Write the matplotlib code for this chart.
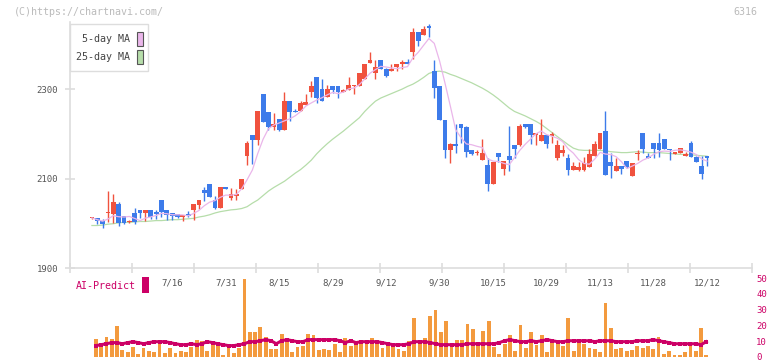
import numpy as np
import pandas as pd
import matplotlib
matplotlib.use("Agg")
import matplotlib.pyplot as plt
import matplotlib.patches as mpatches
import matplotlib.transforms as mtrans

# ---------------- data ----------------
opens = [2012, 2012, 2004, 2022, 2020, 2042, 2017, 2002, 2022, 2029,
         2023, 2029, 2026, 2051, 2029, 2024, 2020, 2014, 2021, 2029,
         2040, 2075, 2087, 2053, 2034, 2080, 2056, 2060, 2076, 2150,
         2198, 2186, 2288, 2249, 2215, 2233, 2209, 2274, 2252, 2250,
         2265, 2294, 2326, 2301, 2283, 2306, 2308, 2294, 2299, 2306,
         2308, 2323, 2359, 2337, 2364, 2346, 2341, 2350, 2357, 2361,
         2382, 2428, 2422, 2442, 2341, 2306, 2230, 2163, 2178, 2223,
         2216, 2163, 2156, 2142, 2131, 2087, 2158, 2122, 2151, 2174,
         2174, 2221, 2221, 2198, 2183, 2198, 2196, 2147, 2158, 2147,
         2120, 2118, 2118, 2125, 2151, 2167, 2207, 2138, 2116, 2127,
         2140, 2105, 2154, 2201, 2151, 2180, 2180, 2189, 2167, 2154,
         2158, 2151, 2180, 2149, 2127, 2151]
closes = [2012, 2004, 1998, 2024, 2047, 2000, 2001, 2004, 2002, 2022,
          2029, 2014, 2020, 2026, 2018, 2017, 2014, 2018, 2016, 2044,
          2051, 2067, 2058, 2034, 2080, 2076, 2066, 2066, 2098, 2180,
          2186, 2250, 2226, 2215, 2221, 2209, 2274, 2249, 2248, 2268,
          2272, 2308, 2281, 2274, 2301, 2299, 2294, 2299, 2310, 2310,
          2337, 2357, 2364, 2350, 2346, 2330, 2346, 2357, 2361, 2357,
          2428, 2408, 2435, 2437, 2303, 2230, 2163, 2178, 2172, 2214,
          2160, 2154, 2160, 2158, 2087, 2136, 2149, 2140, 2142, 2167,
          2218, 2216, 2198, 2201, 2198, 2178, 2198, 2176, 2163, 2120,
          2127, 2125, 2134, 2154, 2178, 2201, 2107, 2129, 2129, 2122,
          2125, 2134, 2158, 2167, 2147, 2165, 2163, 2165, 2163, 2160,
          2169, 2154, 2149, 2136, 2111, 2145]
highs = [2014, 2012, 2010, 2072, 2066, 2047, 2017, 2007, 2035, 2029,
         2029, 2029, 2030, 2051, 2029, 2024, 2020, 2018, 2027, 2044,
         2053, 2081, 2087, 2060, 2080, 2080, 2078, 2076, 2098, 2183,
         2198, 2250, 2288, 2249, 2247, 2233, 2294, 2274, 2256, 2274,
         2288, 2319, 2326, 2323, 2310, 2308, 2308, 2301, 2328, 2310,
         2337, 2357, 2382, 2364, 2364, 2348, 2357, 2357, 2366, 2368,
         2437, 2428, 2440, 2446, 2364, 2306, 2230, 2180, 2221, 2223,
         2218, 2163, 2163, 2189, 2147, 2138, 2158, 2140, 2218, 2174,
         2221, 2221, 2221, 2201, 2234, 2198, 2205, 2187, 2176, 2154,
         2136, 2138, 2149, 2165, 2185, 2201, 2250, 2158, 2147, 2129,
         2140, 2134, 2163, 2201, 2156, 2180, 2201, 2189, 2167, 2160,
         2169, 2160, 2185, 2151, 2151, 2151]
lows = [2010, 1999, 1989, 2002, 2001, 1995, 1998, 2001, 1999, 2012,
        2005, 2010, 2010, 2014, 2007, 2007, 2012, 2005, 2014, 2007,
        2031, 2049, 2058, 2031, 2034, 2076, 2052, 2052, 2076, 2130,
        2132, 2174, 2226, 2208, 2208, 2207, 2209, 2228, 2248, 2250,
        2265, 2283, 2268, 2274, 2283, 2292, 2279, 2294, 2299, 2290,
        2308, 2323, 2359, 2323, 2344, 2328, 2341, 2341, 2344, 2357,
        2368, 2397, 2422, 2417, 2281, 2230, 2147, 2134, 2158, 2180,
        2149, 2152, 2152, 2142, 2073, 2087, 2136, 2109, 2116, 2145,
        2172, 2212, 2178, 2176, 2183, 2169, 2180, 2142, 2151, 2109,
        2118, 2116, 2116, 2125, 2151, 2167, 2107, 2102, 2116, 2111,
        2123, 2105, 2142, 2156, 2147, 2147, 2149, 2165, 2142, 2154,
        2158, 2151, 2149, 2136, 2098, 2127]
ma25 = [1995, 1995, 1996, 1998, 1999, 2001, 2002, 2002, 2003, 2004,
        2004, 2005, 2006, 2006, 2007, 2008, 2008, 2009, 2010, 2011,
        2014, 2016, 2019, 2023, 2026, 2028, 2030, 2031, 2033, 2037,
        2045, 2052, 2062, 2072, 2080, 2087, 2094, 2103, 2112, 2120,
        2130, 2141, 2155, 2167, 2178, 2188, 2197, 2206, 2216, 2226,
        2236, 2250, 2262, 2273, 2280, 2285, 2290, 2295, 2300, 2306,
        2311, 2318, 2326, 2335, 2339, 2340, 2338, 2333, 2329, 2324,
        2319, 2314, 2308, 2302, 2295, 2287, 2278, 2268, 2258, 2250,
        2245, 2240, 2234, 2228, 2221, 2212, 2203, 2194, 2185, 2176,
        2168, 2164, 2163, 2163, 2163, 2163, 2162, 2160, 2159, 2158,
        2158, 2159, 2160, 2159, 2158, 2158, 2158, 2157, 2156, 2155,
        2154, 2154, 2153, 2152, 2151, 2150]
volume = [11.6, 6.8, 12.9, 11.6, 19.8, 4.6, 3.4, 6.5, 2.1, 5.9,
          4.0, 3.4, 9.1, 2.7, 5.9, 2.7, 4.0, 3.4, 6.5, 11.0,
          10.3, 4.0, 9.1, 7.2, 1.5, 5.9, 2.7, 5.9, 49.6, 16.0,
          16.0, 19.2, 12.9, 5.3, 5.3, 14.8, 10.3, 3.4, 6.5, 7.2,
          14.8, 14.1, 4.6, 5.3, 4.6, 8.4, 3.4, 12.2, 7.2, 7.8,
          9.7, 9.1, 12.2, 9.7, 5.9, 8.4, 6.5, 5.0, 4.0, 10.0,
          25.0, 10.5, 12.0, 26.0, 30.0, 16.0, 23.0, 8.5, 11.0, 11.0,
          21.0, 17.5, 7.0, 16.5, 23.0, 6.5, 2.0, 8.5, 14.0, 4.0,
          20.0, 5.5, 16.0, 7.5, 14.0, 3.0, 11.0, 10.5, 7.0, 25.0,
          3.5, 10.0, 8.0, 6.0, 5.0, 3.0, 34.5, 18.5, 5.0, 5.5,
          3.5, 4.5, 7.0, 6.0, 7.0, 5.0, 12.5, 2.0, 3.5, 1.0,
          1.5, 3.0, 8.0, 4.0, 18.5, 1.5]
ai_predict = [7.2, 7.8, 8.4, 9.1, 9.1, 8.4, 9.1, 9.7, 9.1, 8.4,
              9.1, 9.7, 9.7, 9.7, 9.1, 8.4, 7.8, 7.8, 8.4, 7.8,
              8.4, 9.7, 9.1, 8.4, 7.8, 7.2, 7.2, 7.8, 8.4, 9.7,
              9.7, 10.3, 11.0, 10.3, 8.4, 10.3, 11.0, 10.3, 9.7, 9.7,
              11.0, 11.0, 11.0, 11.0, 11.0, 11.0, 10.3, 9.1, 10.3, 9.1,
              9.7, 9.7, 9.7, 9.7, 9.1, 8.4, 7.8, 7.8, 7.8, 8.4,
              9.7, 9.7, 9.7, 9.1, 8.4, 7.8, 7.8, 7.8, 7.8, 7.8,
              8.4, 8.4, 8.4, 8.4, 8.4, 8.4, 9.1, 10.3, 11.0, 10.3,
              9.7, 9.7, 10.3, 9.7, 10.3, 11.0, 10.3, 9.7, 9.7, 10.3,
              10.3, 10.3, 10.3, 10.3, 9.7, 10.3, 10.3, 10.3, 9.7, 9.7,
              9.7, 9.7, 10.3, 10.3, 10.3, 11.0, 10.3, 9.7, 9.1, 8.4,
              8.4, 8.4, 8.4, 8.4, 7.8, 9.7]
date_labels = ["7/16", "7/31", "8/15", "8/29", "9/12", "9/30",
               "10/15", "10/29", "11/13", "11/28", "12/12"]
date_label_idx = [15, 25, 35, 45, 55, 65, 75, 85, 95, 105, 115]
price_ticks = [1900, 2100, 2300]
vol_ticks = [0, 10, 20, 30, 40, 50]

# ---------------- style ----------------
W, H = 772, 361
MONO = ["DejaVu Sans Mono"]
RED = "#f0523e"
BLUE = "#3d7bea"
PINK = "#eab6ea"
GREEN = "#b6ddaa"
CRIMSON = "#cc0066"
ORANGE = "#f39a3e"
SPINE = "#dddddd"

def fx(px):
    return px / W

def fy(py):
    return 1 - py / H

fig = plt.figure(figsize=(W / 100, H / 100), dpi=100)
fig.patch.set_facecolor("white")

# main price axes
ax = fig.add_axes([fx(70), fy(268), fx(752) - fx(70), fy(22) - fy(268)])
n = len(closes)
idx = np.arange(n)
o = np.array(opens, float)
c = np.array(closes, float)
h = np.array(highs, float)
l = np.array(lows, float)
up = c >= o
cols = np.where(up, RED, BLUE)

ax.vlines(idx, l, h, colors=cols, linewidth=1.0, zorder=2)
body_bottom = np.minimum(o, c)
body_h = np.maximum(np.abs(c - o), 2.5)
ax.bar(idx, body_h, bottom=body_bottom, width=0.9, color=cols,
       edgecolor="none", zorder=3)

ma5 = pd.Series(closes, dtype=float).rolling(5, min_periods=1).mean()
ax.plot(idx, ma5, color=PINK, lw=0.9, zorder=4)
ax.plot(idx, ma25, color=GREEN, lw=0.9, zorder=1)

xl = (-4.1, 123.4)
ax.set_xlim(*xl)
ax.set_ylim(1900, 2450)
ax.set_xticks(np.linspace(xl[0], xl[1], 12))
ax.set_xticklabels([])
ax.set_yticks(price_ticks)
ax.set_yticklabels([str(t) for t in price_ticks], family=MONO,
                   fontsize=6.5, color="#555555")
ax.tick_params(axis="both", direction="inout", color=SPINE, width=1.2,
               length=7)
ax.tick_params(axis="y", pad=5)
for s in ["top", "right"]:
    ax.spines[s].set_visible(False)
for s in ["left", "bottom"]:
    ax.spines[s].set_color(SPINE)
    ax.spines[s].set_linewidth(1.2)
ax.set_facecolor("none")

# volume axes
axv = fig.add_axes([fx(70), fy(357), fx(752) - fx(70), fy(276) - fy(357)])
vidx = np.arange(len(volume))
axv.bar(vidx, volume, width=0.72, color=ORANGE, edgecolor="none", zorder=2)
axv.plot(vidx, ai_predict, color=CRIMSON, lw=2.2, marker="s",
         markersize=2.6, markeredgewidth=0, zorder=3)
axv.set_xlim(-4.86, 123.6)
axv.set_ylim(0, 51.3)
axv.set_xticks([])
axv.yaxis.tick_right()
axv.set_yticks(vol_ticks)
axv.set_yticklabels([str(t) for t in vol_ticks], family=MONO, fontsize=6.5,
                    color=CRIMSON)
axv.tick_params(axis="y", length=0, pad=3)
for lab in axv.get_yticklabels():
    lab.set_verticalalignment("center_baseline")
for s in axv.spines.values():
    s.set_visible(False)
axv.set_facecolor("none")

# date labels (positioned on the price index scale)
btr = mtrans.blended_transform_factory(ax.transData, fig.transFigure)
for lab, i in zip(date_labels, date_label_idx):
    fig.text(i, fy(283), lab, transform=btr, ha="center", va="center",
             family=MONO, fontsize=6.5, color="#555555")

# AI-Predict legend
fig.text(fx(76), fy(286), "AI-Predict", ha="left", va="center",
         family=MONO, fontsize=7.2, color=CRIMSON)
fig.add_artist(mpatches.Rectangle((fx(142.3), fy(292.7)), fx(6.4),
                                  fy(277.3) - fy(292.7),
                                  transform=fig.transFigure,
                                  facecolor=CRIMSON, edgecolor="none"))

# MA legend box
fig.add_artist(mpatches.Rectangle((fx(70), fy(71)), fx(78), fy(24) - fy(71),
                                  transform=fig.transFigure,
                                  facecolor="white", edgecolor=SPINE,
                                  lw=1.0, zorder=5))
for yy, lab, colr in [(39, "5-day MA", PINK), (56.5, "25-day MA", GREEN)]:
    fig.text(fx(130), fy(yy), lab, ha="right", va="center", family=MONO,
             fontsize=7.2, color="#444444", zorder=6)
    fig.add_artist(mpatches.Rectangle((fx(136.5), fy(yy + 7)), fx(6),
                                      fy(yy - 7) - fy(yy + 7),
                                      transform=fig.transFigure,
                                      facecolor=colr, edgecolor="#555555",
                                      lw=0.8, zorder=6))

# header texts
fig.text(fx(14), fy(12), "(C)https://chartnavi.com/", ha="left",
         va="center", family=MONO, fontsize=7.2, color="#bbbbbb")
fig.text(fx(757), fy(12), "6316", ha="right", va="center", family=MONO,
         fontsize=7.2, color="#bbbbbb")

fig.savefig("out.png", dpi=100, facecolor="white")
